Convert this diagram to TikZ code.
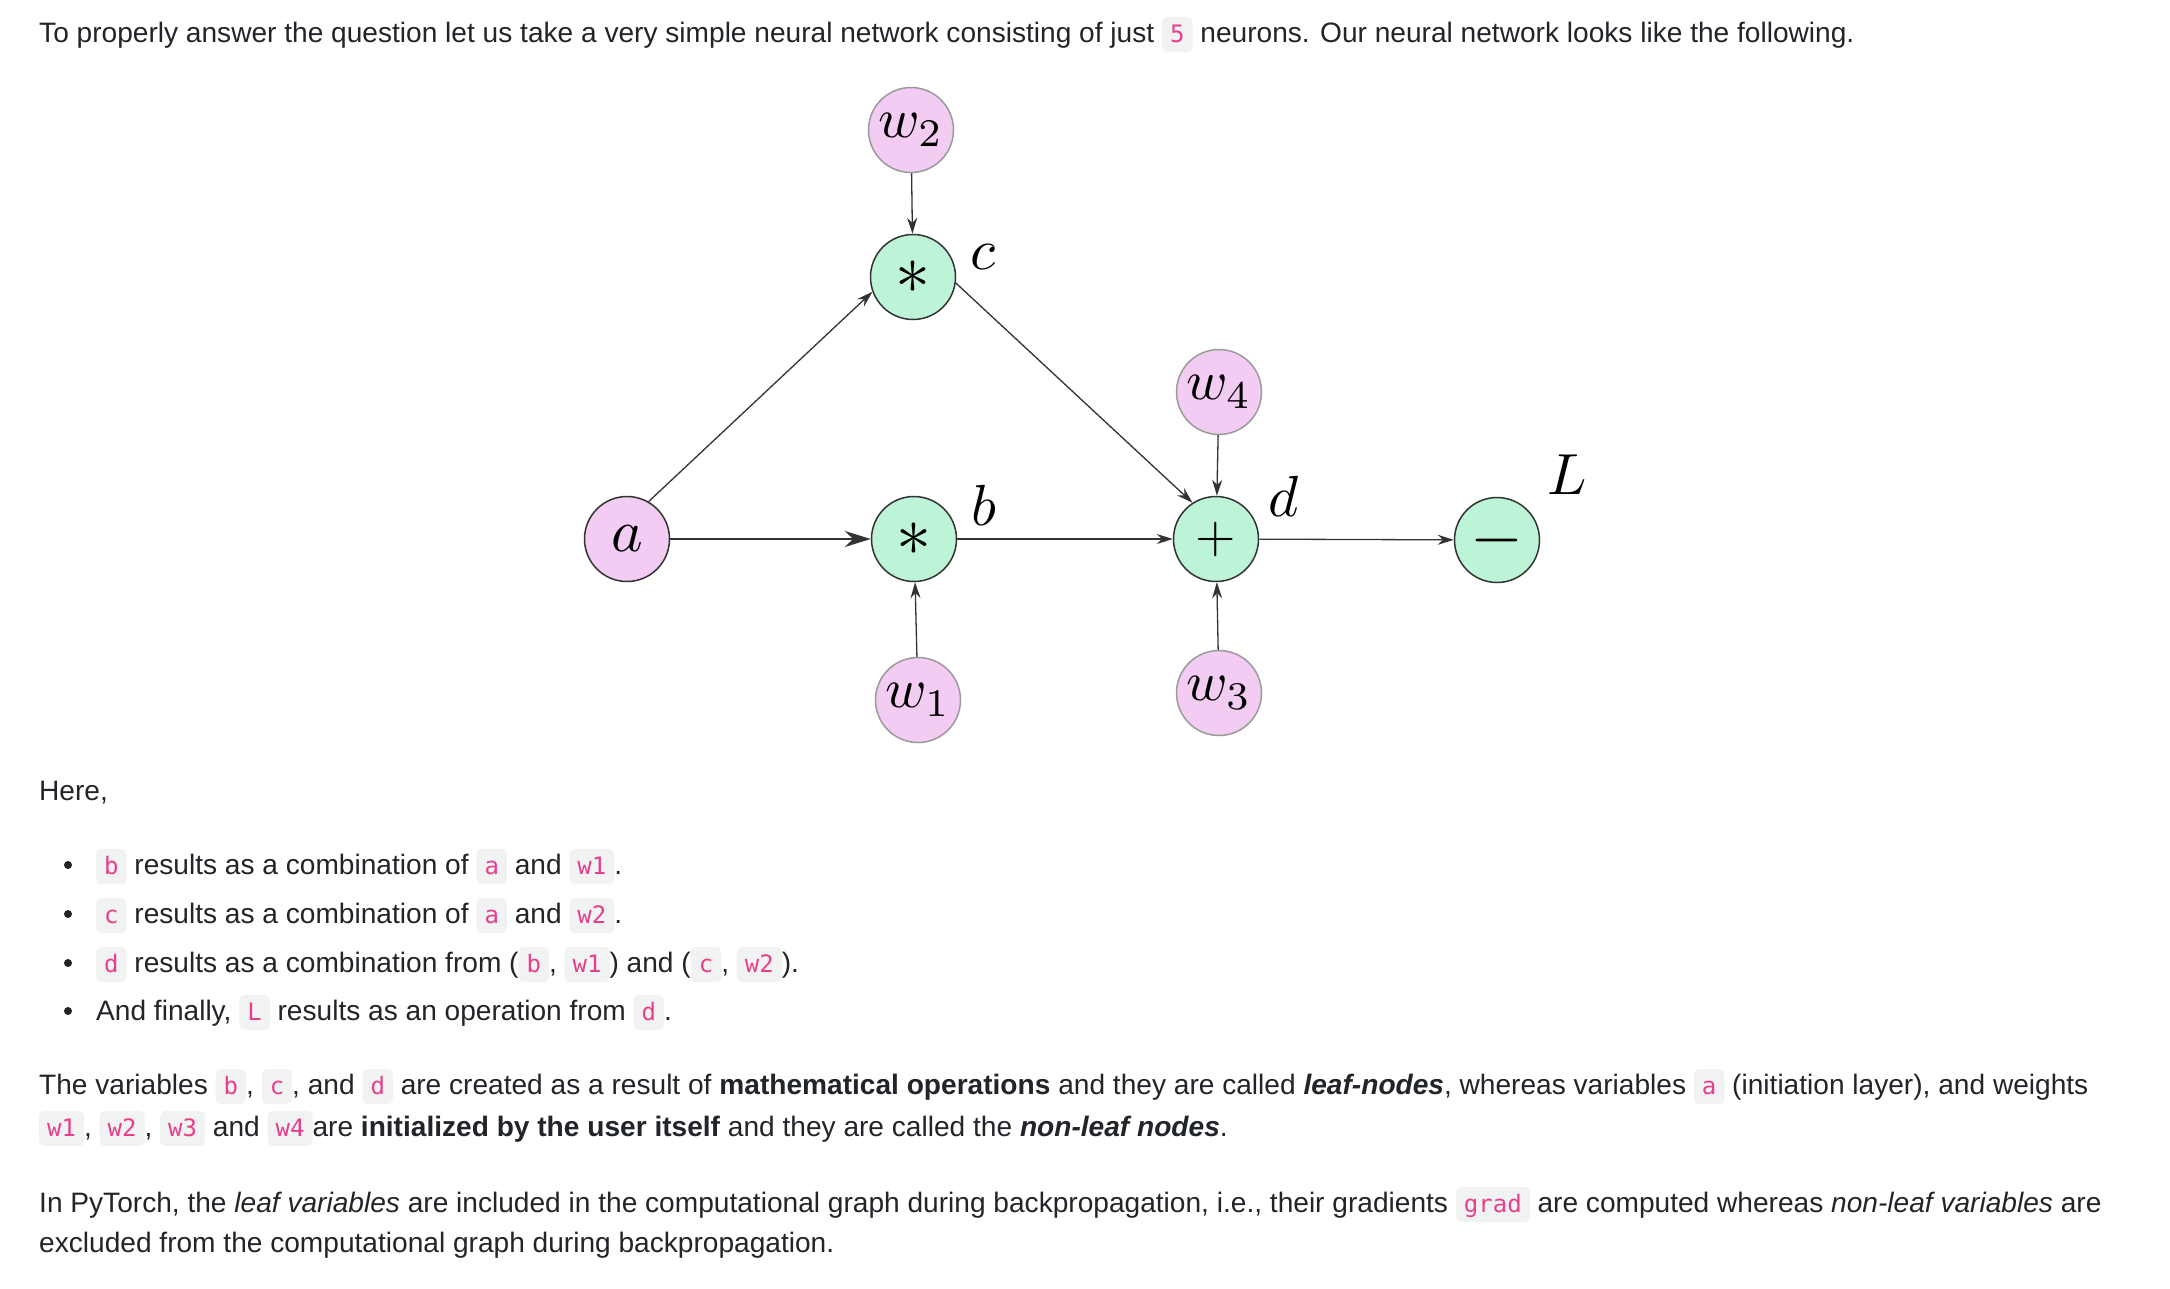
\documentclass[tikz,border=0pt]{standalone}
\usepackage{graphicx}
\usepackage[no-math]{fontspec}
\setmainfont{Liberation Sans}
\newfontfamily\codef{DejaVu Sans Mono}
\usetikzlibrary{arrows.meta}
\definecolor{txtc}{HTML}{212529}
\definecolor{codepink}{HTML}{E83E8C}
\definecolor{codebg}{HTML}{F1F3F3}
\definecolor{pinkfill}{HTML}{F3CCF3}
\definecolor{greenfill}{HTML}{BDF3D6}
\definecolor{nodeline}{HTML}{333333}
\definecolor{wline}{HTML}{9A9A9A}
\tikzset{
  cdbox/.style={fill=codebg, rounded corners=5pt, inner xsep=8pt, inner ysep=0pt,
    text height=25pt, text depth=10pt, font=\codef\fontsize{24}{24}\selectfont, text=codepink},
  txt/.style={anchor=base west, inner sep=0pt, font=\fontsize{28.1}{41}\selectfont, text=txtc},
  bul/.style={circle, fill=txtc, minimum size=8pt, inner sep=0pt},
  pnode/.style={circle, minimum size=85pt, inner sep=0pt, fill=pinkfill, draw=wline,
    line width=1.5pt},
  anode/.style={pnode, draw=nodeline},
  gnode/.style={circle, minimum size=85pt, inner sep=0pt, fill=greenfill, draw=nodeline,
    line width=1.5pt},
  lbl/.style={inner sep=0pt},
  thinarr/.style={draw=nodeline, line width=1.3pt, -{Stealth[length=16pt,width=10pt]}},
  thickarr/.style={draw=nodeline, line width=2pt, -{Stealth[length=26pt,width=16pt]}},
}
\newcommand\cd[1]{\tikz[baseline=(cx.base)]\node[cdbox](cx){#1};}
\newcommand\mth[2]{\scalebox{#1}{\fontsize{10}{12}\selectfont$#2$}}
\begin{document}
\begin{tikzpicture}[x=1pt,y=-1pt]
\path[use as bounding box, fill=white] (0,0) rectangle (2170,1288);

% diagram nodes
\node[anode] (a) at (627,539) {\mth{6}{a}};
\node[gnode] (b) at (914,539) {\mth{7}{\ast}};
\node[gnode] (c) at (913,277) {\mth{7}{\ast}};
\node[pnode] (w2) at (911,130) {\mth{5.6}{w_2}};
\node[pnode] (w1) at (918,700) {\mth{5.6}{w_1}};
\node[gnode] (d) at (1216,539) {\mth{5.2}{+}};
\node[pnode] (w4) at (1219,392) {\mth{5.6}{w_4}};
\node[pnode] (w3) at (1219,693) {\mth{5.6}{w_3}};
\node[gnode] (L) at (1497,540) {\mth{6.8}{-}};

\node[lbl] (lc) at (983,257) {\mth{5.8}{c}};
\node[lbl] (lb) at (984,505) {\mth{5.8}{b}};
\node[lbl] (ld) at (1284,496) {\mth{5.8}{d}};
\node[lbl] (lL) at (1567,475) {\mth{5.8}{L}};

% connectors
\draw[thinarr] (a.60) -- (c.200);
\draw[thickarr] (a) -- (b);
\draw[thinarr] (w2) -- (c);
\draw[thinarr] (w1) -- (b);
\draw[thinarr] (b) -- (d);
\draw[thinarr] (c.-8) -- (d.123);
\draw[thinarr] (w4) -- (d);
\draw[thinarr] (w3) -- (d);
\draw[thinarr] (d) -- (L);

% text
\node[txt] (t1) at (39,42) {To properly answer the question let us take a very simple neural network consisting of just \cd{5} neurons. Our neural network looks like the following.};
\node[txt] (here) at (39,800) {Here,};

\node[bul] (u1) at (68,865) {};
\node[bul] (u2) at (68,914) {};
\node[bul] (u3) at (68,963) {};
\node[bul] (u4) at (68,1011) {};
\node[txt] (l1) at (96,874) {\cd{b} results as a combination of \cd{a} and \cd{w1}.};
\node[txt] (l2) at (96,923) {\cd{c} results as a combination of \cd{a} and \cd{w2}.};
\node[txt] (l3) at (96,972) {\cd{d} results as a combination from (\cd{b}, \cd{w1}) and (\cd{c}, \cd{w2}).};
\node[txt] (l4) at (96,1020) {And finally, \cd{L} results as an operation from \cd{d}.};

\node[txt] (p1) at (39,1094) {The variables \cd{b}, \cd{c}, and \cd{d} are created as a result of \textbf{mathematical operations} and they are called \textbf{\textit{leaf-nodes}}, whereas variables \cd{a} (initiation layer), and weights};
\node[txt] (p2) at (39,1136) {\cd{w1}, \cd{w2}, \cd{w3} and \cd{w4}are \textbf{initialized by the user itself} and they are called the \textbf{\textit{non-leaf nodes}}.};
\node[txt] (p3) at (39,1212) {In PyTorch, the \textit{leaf variables} are included in the computational graph during backpropagation, i.e., their gradients \cd{grad} are computed whereas \textit{non-leaf variables} are};
\node[txt] (p4) at (39,1252) {excluded from the computational graph during backpropagation.};
\end{tikzpicture}
\end{document}
